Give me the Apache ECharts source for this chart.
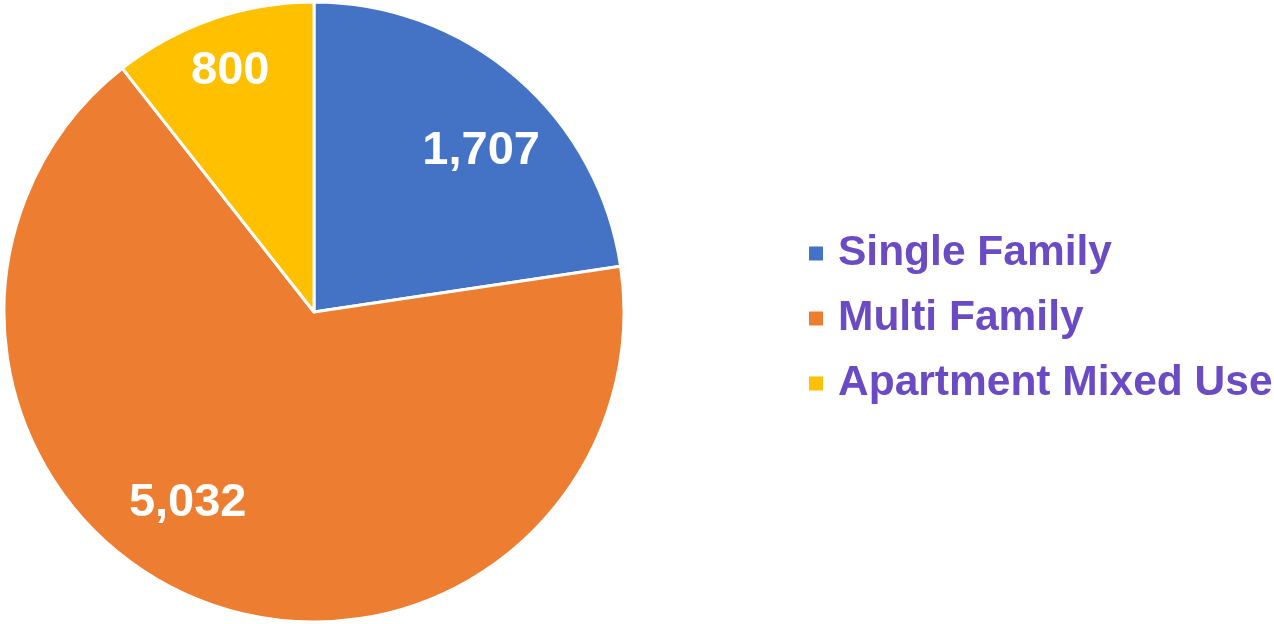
<!DOCTYPE html>
<html lang="en">
<head>
    <meta charset="UTF-8">
    <title>Pie</title>
    <script src="https://cdn.jsdelivr.net/npm/echarts@6/dist/echarts.min.js"></script>
    <style>
        *{
            margin: 0;
            padding: 0;
        }
        #box{
            width: 1274px;
            height: 624px;
            background: #fff;
        }
    </style>
</head>
<body>
<div id="box"></div>
<script type="text/javascript">
    // data
    let categories = ['Single Family', 'Multi Family', 'Apartment Mixed Use'];
    let values = [1707, 5032, 800];
    let colors = ['#4472C4', '#ED7D31', '#FFC000'];
    // label nudges so labels sit like the original
    let offsets = [[64, -41], [-68, 44], [-32, -92]];

    let pieData = categories.map((name, i) => ({
        name,
        value: values[i],
        itemStyle: {color: colors[i]},
        label: {offset: offsets[i]}
    }));

    let myChart = echarts.init(document.getElementById('box'));
    let option = {
        animation: false,
        legend: {
            orient: 'vertical',
            left: 802,
            top: 227,
            icon: 'rect',
            itemWidth: 16,
            itemHeight: 16,
            itemGap: 22,
            data: categories,
            textStyle: {
                color: '#6A4BC4',
                fontFamily: 'Liberation Sans',
                fontWeight: 'bold',
                fontSize: 42.5,
                lineHeight: 42,
                padding: [0, 0, 0, 9]
            }
        },
        series: [{
            type: 'pie',
            center: [314, 312],
            radius: 310,
            startAngle: 90,
            clockwise: true,
            itemStyle: {
                borderColor: '#fff',
                borderWidth: 3
            },
            label: {
                position: 'inside',
                color: '#fff',
                fontFamily: 'Liberation Sans',
                fontWeight: 'bold',
                fontSize: 47,
                formatter: p => p.value.toLocaleString('en-US')
            },
            labelLine: {show: false},
            emphasis: {disabled: true},
            data: pieData
        }]
    };
    myChart.setOption(option);
</script>
</body>
</html>
